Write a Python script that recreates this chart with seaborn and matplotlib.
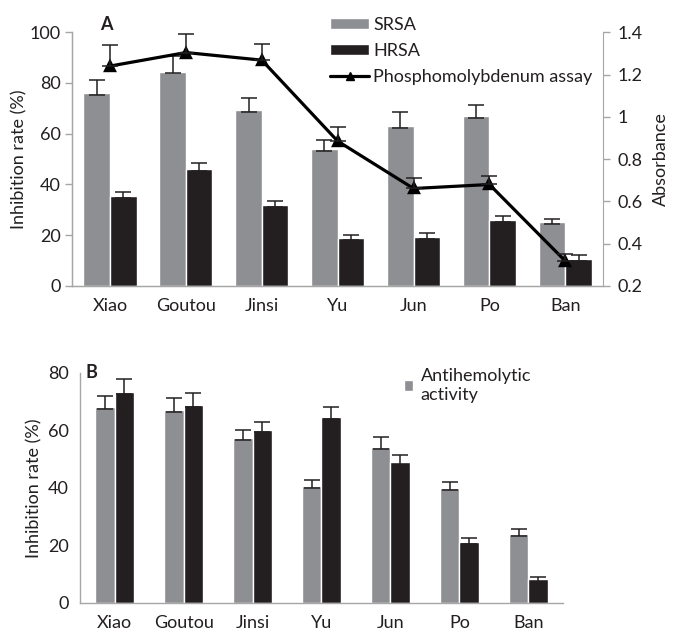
import matplotlib
matplotlib.use("Agg")
import matplotlib.pyplot as plt
from matplotlib.patches import Patch
from matplotlib.lines import Line2D
from matplotlib.ticker import FixedLocator
import numpy as np
import pandas as pd
import seaborn as sns

cultivars = ["Xiao", "Goutou", "Jinsi", "Yu", "Jun", "Po", "Ban"]

# panel A
srsa = [76.0, 84.5, 69.3, 54.0, 63.0, 66.8, 25.1]
srsa_err = [5.0, 6.0, 4.7, 3.5, 5.4, 4.4, 1.3]
hrsa = [35.3, 46.0, 32.0, 18.9, 19.3, 26.0, 10.7]
hrsa_err = [1.7, 2.5, 1.5, 1.3, 1.6, 1.6, 1.5]
phospho = [1.24, 1.304, 1.268, 0.885, 0.661, 0.68, 0.318]
phospho_err = [0.10, 0.09, 0.075, 0.066, 0.05, 0.04, 0.033]

# panel B
anti_gray = [68.2, 67.2, 57.4, 40.6, 54.3, 40.0, 24.0]
anti_gray_err = [3.7, 4.0, 2.8, 2.3, 3.5, 2.2, 1.6]
anti_black = [73.4, 68.9, 60.2, 64.7, 48.9, 21.3, 8.2]
anti_black_err = [4.5, 4.0, 2.6, 3.6, 2.4, 1.2, 0.7]

GRAY = "#8e8f93"
BLACK = "#231f20"
SPINE = "#a6a6a6"
FS = 13

sns.set_style("white")
plt.rcParams["font.family"] = ["Lato", "DejaVu Sans"]
plt.rcParams["font.size"] = FS
plt.rcParams["text.color"] = BLACK
plt.rcParams["axes.labelcolor"] = BLACK
plt.rcParams["xtick.color"] = SPINE
plt.rcParams["ytick.color"] = SPINE
plt.rcParams["xtick.labelcolor"] = BLACK
plt.rcParams["ytick.labelcolor"] = BLACK

fig = plt.figure(figsize=(6.74, 6.32), dpi=100)
axA = fig.add_axes([0.107, 0.5475, 0.788, 0.4015])
axB = fig.add_axes([0.119, 0.046, 0.716, 0.364])


def bar_errors(ax, vals_list, errs_list, low):
    for cont, vals, errs in zip(ax.containers, vals_list, errs_list):
        xs = [p.get_x() + p.get_width() / 2 for p in cont.patches]
        ax.errorbar(xs, vals, yerr=[[low] * len(vals), errs], fmt="none",
                    ecolor=BLACK, elinewidth=1.1, capsize=5.5, capthick=1.1, zorder=5)


def style_axis(ax):
    ax.set_xlim(-0.5, 6.5)
    ax.xaxis.set_minor_locator(FixedLocator(np.arange(-0.5, 7, 1)))
    ax.tick_params(axis="x", which="major", length=0, pad=9, labelsize=FS)
    ax.tick_params(axis="x", which="minor", length=5, width=1, direction="out")
    ax.tick_params(axis="y", length=5, width=1, direction="out", labelsize=FS, pad=3)
    for s in ["left", "bottom", "right"]:
        ax.spines[s].set_color(SPINE)
        ax.spines[s].set_linewidth(1)
    ax.spines["top"].set_visible(False)
    ax.set_xlabel("")


# ---- Panel A ----
dfA = pd.DataFrame({
    "cultivar": cultivars * 2,
    "value": srsa + hrsa,
    "assay": ["SRSA"] * 7 + ["HRSA"] * 7,
})
sns.barplot(data=dfA, x="cultivar", y="value", hue="assay", palette=[GRAY, BLACK],
            width=0.7, errorbar=None, legend=False, ax=axA, saturation=1)
bar_errors(axA, [srsa, hrsa], [srsa_err, hrsa_err], 0.7)
axA.set_ylim(0, 100)
axA.set_yticks(range(0, 101, 20))
axA.set_ylabel("Inhibition rate (%)", fontsize=FS, labelpad=2)
style_axis(axA)
axA.spines["right"].set_visible(False)

ax2 = axA.twinx()
sns.pointplot(x=cultivars, y=phospho, ax=ax2, color="black", markers="^",
              linestyles="-", errorbar=None, markersize=7, linewidth=2.3)
ax2.errorbar(range(7), phospho, yerr=[[0] * 7, phospho_err], fmt="none",
             ecolor=BLACK, elinewidth=1.1, capsize=5.5, capthick=1.1)
ax2.set_ylim(0.2, 1.4)
ax2.set_yticks([0.2, 0.4, 0.6, 0.8, 1.0, 1.2, 1.4])
ax2.set_yticklabels(["0.2", "0.4", "0.6", "0.8", "1", "1.2", "1.4"])
ax2.set_ylabel("Absorbance", fontsize=FS, labelpad=8)
ax2.tick_params(axis="y", length=5, width=1, direction="out", labelsize=FS, pad=5)
for s in ["left", "bottom", "right"]:
    ax2.spines[s].set_color(SPINE)
ax2.spines["top"].set_visible(False)
ax2.set_xlim(-0.5, 6.5)

handlesA = [
    Patch(facecolor=GRAY, label="SRSA"),
    Patch(facecolor=BLACK, label="HRSA"),
    Line2D([], [], color="black", lw=2.3, marker="^", markersize=6,
           label="Phosphomolybdenum assay"),
]
ax2.legend(handles=handlesA, loc="upper left", bbox_to_anchor=(0.485, 1.06),
           frameon=False, fontsize=FS, handlelength=2.2, handleheight=0.5,
           handletextpad=0.2, labelspacing=0.55, borderpad=0, borderaxespad=0)
axA.text(0.052, 1.03, "A", transform=axA.transAxes, fontsize=FS, fontweight="bold",
         va="center", ha="left")

# ---- Panel B ----
dfB = pd.DataFrame({
    "cultivar": cultivars * 2,
    "value": anti_gray + anti_black,
    "series": ["Antihemolytic activity"] * 7 + ["series 2"] * 7,
})
sns.barplot(data=dfB, x="cultivar", y="value", hue="series", palette=[GRAY, BLACK],
            width=0.56, errorbar=None, legend=False, ax=axB, saturation=1)
bar_errors(axB, [anti_gray, anti_black], [anti_gray_err, anti_black_err], 0.8)
axB.set_ylim(0, 80)
axB.set_yticks(range(0, 81, 20))
axB.set_ylabel("Inhibition rate (%)", fontsize=FS, labelpad=4)
style_axis(axB)
axB.spines["right"].set_visible(False)
axB.legend(handles=[Patch(facecolor=GRAY, label="Antihemolytic\nactivity")],
           loc="upper left", bbox_to_anchor=(0.67, 1.02), frameon=False, fontsize=FS,
           handlelength=0.55, handleheight=0.55, handletextpad=0.4, borderpad=0,
           borderaxespad=0, labelspacing=0.1)
axB.text(0.01, 1.0, "B", transform=axB.transAxes, fontsize=FS, fontweight="bold",
         va="center", ha="left")

fig.savefig("out.png", dpi=100)
